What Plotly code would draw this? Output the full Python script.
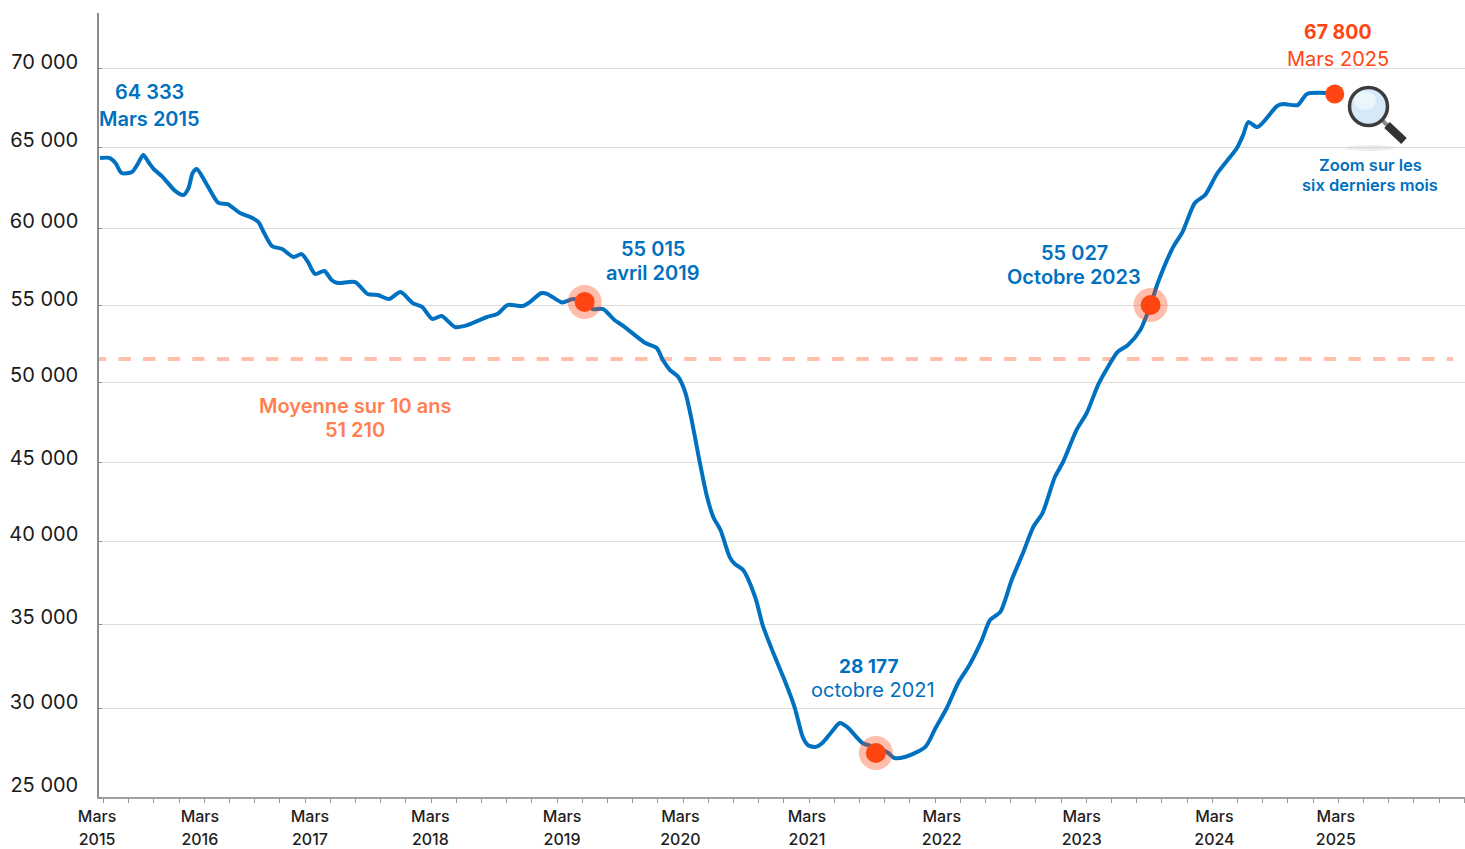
import plotly.graph_objects as go

# Months elapsed since March 2015, and chart values
months = [0, 0.9, 1.5, 2.1, 3.1, 3.6, 4.2, 4.7, 5.2, 6.1, 7.3, 8.1, 8.6, 9.0, 9.4, 10.4, 11.5, 12.4, 13.6, 14.6,
          15.4, 15.8, 16.7, 17.7, 18.8, 19.6, 20.2, 20.9, 21.8, 22.5, 23.1, 24.8, 26.0, 27.0, 28.1, 29.2, 30.4,
          31.3, 32.3, 33.2, 34.5, 35.7, 37.6, 38.6, 39.6, 41.1, 41.8, 42.9, 43.5, 44.9, 46.0, 47.1, 47.9, 48.9,
          50.0, 51.0, 53.0, 54.1, 54.7, 55.4, 56.2, 56.9, 57.5, 58.3, 59.0, 59.6, 60.3, 61.2, 61.7, 62.5, 63.7,
          64.4, 65.4, 66.6, 67.5, 68.3, 68.8, 69.5, 70.2, 71.1, 71.9, 72.6, 74.1, 74.8, 75.8, 76.6, 77.2, 78.2,
          80.2, 81.2, 82.3, 83.4, 84.5, 85.7, 86.5, 87.5, 88.6, 89.7, 90.7, 91.6, 92.8, 93.6, 94.9, 95.9,
          97.0, 97.9, 98.9, 99.9, 101.1, 102.1, 102.8, 104.3, 105.2, 106.4, 107.4, 108.6, 110.5, 111.1, 111.6,
          112.5, 114.4, 115.0, 116.4, 117.3, 119.3, 120.0]
values = [64500, 64500, 64190, 63570, 63630, 64060, 64680, 64250, 63820, 63320, 62460, 62210, 62640, 63570, 63820,
          62830, 61720, 61650, 61100, 60850, 60540, 60050, 59060, 58870, 58380, 58560, 58070, 57330, 57510, 56960,
          56770, 56830, 56090, 56030, 55780, 56210, 55530, 55290, 54550, 54730, 54050, 54170, 54670, 54850, 55410,
          55350, 55600, 56150, 56090, 55570, 55780, 55530, 55160, 55160, 54480, 54050, 53060, 52750, 52010, 51390,
          50960, 49970, 48300, 45650, 43540, 42310, 41500, 39830, 39400, 39030, 37300, 35630, 33960, 32110, 30560,
          28710, 28210, 28090, 28340, 29020, 29570, 29330, 28340, 28180, 28030, 27720, 27410, 27470, 28090, 29260,
          30500, 32050, 33160, 34700, 35940, 36440, 38410, 40080, 41690, 42550, 44780, 45710, 47680, 48740,
          50470, 51520, 52510, 52940, 53870, 55410, 56770, 59000, 59920, 61720, 62210, 63570, 65120, 65920, 66720,
          66410, 67710, 67830, 67770, 68450, 68510, 68450]

halo_months = [47.1, 75.4, 102.1]
halo_values = [55600, 27720, 55410]
last_month = [120.0]
last_value = [68450]

mean_months = [-0.6, 131.5]
mean_values = [52073, 52073]

y_labels = ["70 000", "65 000", "60 000", "55 000", "50 000", "45 000", "40 000", "35 000", "30 000", "25 000"]
y_label_pos = [70430, 65610, 60600, 55780, 51080, 45950, 41260, 36130, 30870, 25740]
y_grid_pos = [70000, 65120, 60170, 55410, 50650, 45650, 40820, 35690, 30500, 25000]

x_tick_pos = [-0.09, 9.9, 20.6, 32.3, 45.1, 56.6, 68.9, 82.0, 95.6, 108.5, 120.3]
x_months_text = ["Mars"] * 11
x_years_text = ["2015", "2016", "2017", "2018", "2019", "2020", "2021", "2022", "2023", "2024", "2025"]

BLUE = "#0070c0"
RED = "#ff4612"
SALMON = "#ff7f50"
PALE = "#ffbfab"
FONT = "Inter"
W, H = 1465, 849
L, R, T, B = 99, 1465, 13, 797


def px(x):
    return (x - L) / (R - L)


def py(y):
    return (B - y) / (B - T)


fig = go.Figure()
fig.add_trace(go.Scatter(x=mean_months, y=mean_values, mode="lines", hoverinfo="skip",
                         line=dict(color=PALE, width=4, dash="12.3px,12.3px")))
fig.add_trace(go.Scatter(x=months, y=values, mode="lines", hoverinfo="skip",
                         line=dict(color=BLUE, width=4, shape="spline", smoothing=0.7)))
fig.add_trace(go.Scatter(x=halo_months, y=halo_values, mode="markers", hoverinfo="skip",
                         marker=dict(color=RED, size=34, opacity=0.35, line=dict(width=0))))
fig.add_trace(go.Scatter(x=halo_months, y=halo_values, mode="markers", hoverinfo="skip",
                         marker=dict(color=RED, size=20, line=dict(width=0))))
fig.add_trace(go.Scatter(x=last_month, y=last_value, mode="markers", hoverinfo="skip",
                         marker=dict(color=RED, size=19, line=dict(width=0))))
# Carrier for the second x axis, which holds the year line of the tick labels
fig.add_trace(go.Scatter(x=last_month, y=last_value, xaxis="x2", mode="markers", hoverinfo="skip",
                         marker=dict(color="rgba(0,0,0,0)", size=1)))

notes = [
    ("64 333", 149, 92, 20, 600, BLUE), ("Mars 2015", 149, 119, 20, 600, BLUE),
    ("55 015", 653, 249, 20, 600, BLUE), ("avril 2019", 652, 273, 20, 600, BLUE),
    ("55 027", 1074, 253, 20, 600, BLUE), ("Octobre 2023", 1074, 277, 20, 600, BLUE),
    ("28 177", 869, 666, 19, 700, BLUE), ("octobre 2021", 873, 690, 20, 400, BLUE),
    ("Moyenne sur 10 ans", 355, 406, 20, 600, SALMON), ("51 210", 355, 430, 20, 600, SALMON),
    ("67 800", 1338, 32, 19.5, 700, RED), ("Mars 2025", 1338, 59, 20, 400, RED),
    ("Zoom sur les", 1370, 165.5, 16.5, 600, BLUE), ("six derniers mois", 1370, 185, 16.5, 600, BLUE),
]
annotations = [dict(text=t, x=px(x), y=py(y), xref="paper", yref="paper", xanchor="center", yanchor="middle",
                    showarrow=False, font=dict(family=FONT, size=s, weight=w, color=c))
               for t, x, y, s, w, c in notes]


def shape(kind, x0, y0, x1, y1, **kw):
    return dict(type=kind, xref="paper", yref="paper", x0=px(x0), y0=py(y0), x1=px(x1), y1=py(y1), **kw)


shapes = [
    shape("circle", 1345, 145, 1395, 151, fillcolor="rgba(200,205,205,0.35)", line=dict(width=0), layer="above"),
    shape("line", 1381, 119, 1388, 126, line=dict(color="#8a8a8a", width=4), layer="above"),
    shape("line", 1387, 125, 1404, 141, line=dict(color="#333333", width=8), layer="above"),
    shape("circle", 1349.5, 87.5, 1387.5, 125.5, fillcolor="#d5e9f8", line=dict(color="#3c3c3c", width=3.5), layer="above"),
    shape("circle", 1354, 91, 1376, 110, fillcolor="#eaf5fc", line=dict(width=0), layer="above"),
]

fig.update_layout(
    width=W, height=H, showlegend=False, paper_bgcolor="white", plot_bgcolor="white",
    margin=dict(l=L, r=W - R, t=T, b=H - B, pad=0, autoexpand=False),
    annotations=annotations, shapes=shapes,
    font=dict(family=FONT),
    xaxis=dict(range=[-0.1, 132.66], automargin=False, showgrid=False, zeroline=False, showline=True,
               linecolor="#a0a0a0", linewidth=1.5,
               tickmode="array", tickvals=x_tick_pos, ticktext=x_months_text, ticks="", ticklabelshift=-2,
               ticklabelstandoff=4, tickangle=0, tickfont=dict(family=FONT, size=16, weight=500, color="#1e1e1e"),
               minor=dict(tickmode="linear", tick0=0.34, dtick=2.449, ticks="outside", ticklen=4,
                          tickcolor="#9a9a9a", tickwidth=1, showgrid=False)),
    xaxis2=dict(range=[-0.1, 132.66], automargin=False, overlaying="x", anchor="y", side="bottom", showgrid=False,
                zeroline=False, showline=False, tickmode="array", tickvals=x_tick_pos, ticktext=x_years_text,
                ticks="", ticklabelshift=-2, ticklabelstandoff=31, tickangle=0,
                tickfont=dict(family=FONT, size=16, weight=500, color="#1e1e1e")),
    yaxis=dict(range=[25000, 73460], automargin=False, showgrid=False, zeroline=False, showline=True,
               linecolor="#8c8c8c", linewidth=1.5,
               tickmode="array", tickvals=y_label_pos, ticktext=y_labels, ticks="", ticklabelstandoff=15,
               tickfont=dict(family=FONT, size=20, color="#1a1a1a"),
               minor=dict(tickmode="array", tickvals=y_grid_pos, ticks="inside", ticklen=3, tickcolor="#8c8c8c",
                          tickwidth=1, showgrid=True, gridcolor="#dcdcdc", gridwidth=1)),
)

fig.write_html("out.html", config=dict(displayModeBar=False),
               post_script="document.body.style.margin='0';")
